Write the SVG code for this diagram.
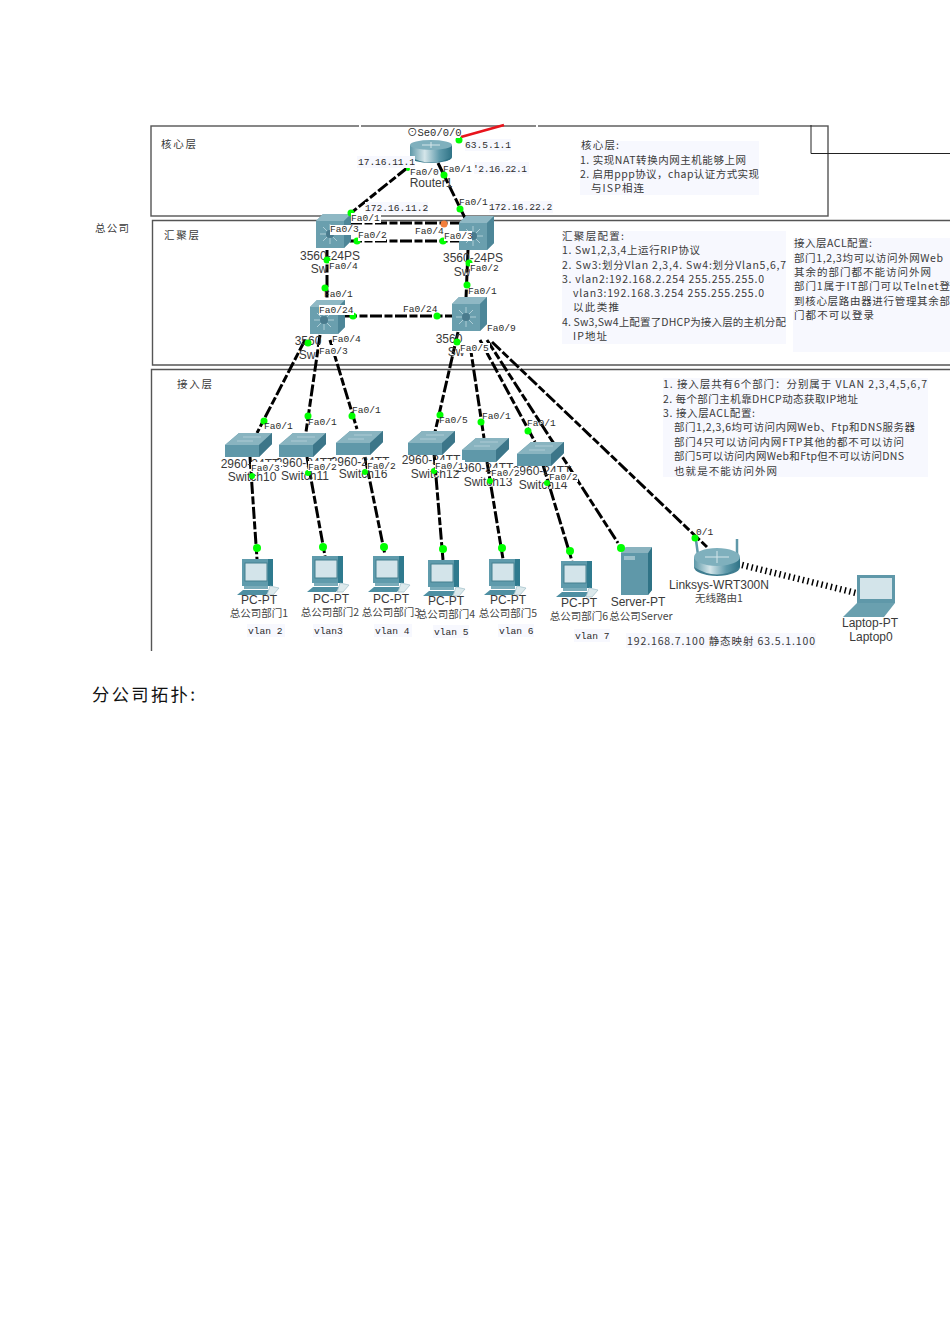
<svg xmlns="http://www.w3.org/2000/svg" width="950" height="1344" viewBox="0 0 950 1344">
<style>
text{font-family:"Liberation Sans","Noto Sans CJK SC",sans-serif;fill:#333}
.p{font-family:"Liberation Mono","Noto Sans CJK SC",monospace;font-size:9.6px;fill:#2b2b2b}
.b{font-family:"Liberation Mono","Noto Sans CJK SC",monospace;font-size:9.6px;fill:#2b2b2b}
.d{font-size:12px;text-anchor:middle;fill:#3a3a3a}
.t{font-size:10.5px;fill:#3a3a3a;font-family:"Noto Sans CJK SC",sans-serif}
.m{font-size:10.5px;text-anchor:middle;fill:#444;font-family:"Noto Sans CJK SC",sans-serif}
.box{fill:none;stroke:#555;stroke-width:1.4}
.bg{fill:#f7f8fe}
.w{fill:#fff}
.l{fill:none;stroke:#000;stroke-width:3;stroke-dasharray:12 2.500 8 2.500}
.g{fill:#0f0}
</style>
<defs>
<linearGradient id="cyl" x1="0" x2="1" y1="0" y2="0"><stop offset="0" stop-color="#5d98a8"/><stop offset=".35" stop-color="#d5e6ea"/><stop offset=".7" stop-color="#5f9aab"/><stop offset="1" stop-color="#2f7386"/></linearGradient>
<g id="cube"><path d="M0 7L7 0H35V27L28 34H0Z" fill="#6a9fae"/><path d="M0 7L7 0H35L28 7Z" fill="#8fb8c4"/><path d="M28 7L35 0V27L28 34Z" fill="#4d8698"/><path d="M14 10V30M4 20H24M7 13L21 27M21 13L7 27" stroke="#b6d2da" stroke-width=".9"/><circle cx="14" cy="20" r="4" fill="#4a7b8d"/></g>
<g id="sw"><path d="M0 12L14 0H47L47 11L34 24H0Z" fill="#5f98a9"/><path d="M0 12L14 0H47L34 12Z" fill="#89b4c0"/><path d="M34 12L47 0V11L34 24Z" fill="#3c7689"/><path d="M12 8H28M18 4H36" stroke="#b8d2da" stroke-width=".8"/></g>
<g id="pc"><path d="M5 0H35V27H5Z" fill="#5f9bac"/><path d="M31 0H36V27H31Z" fill="#2f7a8e"/><rect x="8" y="4" width="22" height="18" fill="#d3e4ea" stroke="#44808f"/><path d="M7 27H31V30H7Z" fill="#7aacba"/><path d="M0 36L6 31H33L29 36Z" fill="#4e8fa2"/><path d="M33 27L42 29 36 36H30Z" fill="#dce9ec" stroke="#9fbfc8" stroke-width=".7"/></g>
</defs>
<rect width="950" height="1344" fill="#fff"/>

<g id="frames">
<rect class="box" x="151" y="126" width="677" height="90"/>
<path class="box" d="M950 220.500H152.500V365H950"/>
<path class="box" d="M950 369.500H151.500V651"/>
<path d="M811 125V153.500H950" fill="none" stroke="#222" stroke-width="1"/>
<rect class="w" x="359" y="124" width="2" height="4"/><rect class="w" x="536" y="124" width="2" height="4"/>
</g>

<g id="text-blocks">
<rect class="bg" x="580" y="141" width="179" height="54"/>
<text class="t" x="581" y="149" textLength="38">核心层:</text>
<text class="t" x="580" y="164" textLength="166">1. 实现NAT转换内网主机能够上网</text>
<text class="t" x="580" y="178" textLength="179">2. 启用ppp协议，chap认证方式实现</text>
<text class="t" x="591" y="192" textLength="53">与ISP相连</text>
<rect class="bg" x="562" y="231" width="224" height="113"/>
<text class="t" x="562" y="240" textLength="62">汇聚层配置:</text>
<text class="t" x="562" y="254" textLength="138">1. Sw1,2,3,4上运行RIP协议</text>
<text class="t" x="562" y="269" textLength="224">2. Sw3:划分Vlan 2,3,4. Sw4:划分Vlan5,6,7</text>
<text class="t" x="562" y="283" textLength="202">3. vlan2:192.168.2.254 255.255.255.0</text>
<text class="t" x="573" y="297" textLength="191">vlan3:192.168.3.254 255.255.255.0</text>
<text class="t" x="573" y="311" textLength="46">以此类推</text>
<text class="t" x="562" y="326" textLength="224">4. Sw3,Sw4上配置了DHCP为接入层的主机分配</text>
<text class="t" x="573" y="340" textLength="34">IP地址</text>
<rect class="bg" x="793" y="238" width="157" height="114"/>
<text class="t" x="794" y="247" textLength="78">接入层ACL配置:</text>
<text class="t" x="794" y="262" textLength="149">部门1,2,3均可以访问外网Web</text>
<text class="t" x="794" y="276" textLength="137">其余的部门都不能访问外网</text>
<text class="t" x="794" y="290" textLength="156">部门1属于IT部门可以Telnet登</text>
<text class="t" x="794" y="305" textLength="156">到核心层路由器进行管理其余部</text>
<text class="t" x="794" y="319" textLength="80">门都不可以登录</text>
<rect class="bg" x="663" y="378" width="265" height="99"/>
<text class="t" x="663" y="388" textLength="264">1. 接入层共有6个部门：分别属于 VLAN 2,3,4,5,6,7</text>
<text class="t" x="663" y="403" textLength="195">2. 每个部门主机靠DHCP动态获取IP地址</text>
<text class="t" x="663" y="417" textLength="92">3. 接入层ACL配置:</text>
<text class="t" x="674" y="431" textLength="241">部门1,2,3,6均可访问内网Web、Ftp和DNS服务器</text>
<text class="t" x="674" y="446" textLength="230">部门4只可以访问内网FTP其他的都不可以访问</text>
<text class="t" x="674" y="460" textLength="230">部门5可以访问内网Web和Ftp但不可以访问DNS</text>
<text class="t" x="674" y="475" textLength="103">也就是不能访问外网</text>
<text class="t" x="161" y="148" textLength="35">核心层</text>
<text class="t" x="164" y="239" textLength="35">汇聚层</text>
<text class="t" x="177" y="388" textLength="35">接入层</text>
<text class="t" x="95" y="232" textLength="34">总公司</text>
<rect class="bg" x="626" y="633" width="190" height="15"/>
<text class="t" x="627" y="645" textLength="188">192.168.7.100 静态映射 63.5.1.100</text>
<text x="92" y="701" font-size="17.300" textLength="103" style="font-family:'Noto Sans CJK SC',sans-serif;fill:#111">分公司拓扑:</text>
</g>

<g id="connectors">
<path d="M461 137L504 125" fill="none" stroke="#e8141c" stroke-width="2.800"/>
<path class="l" d="M407 168L351 213"/>
<path class="l" d="M438 163L465 218"/>
<path class="l" d="M350 223H460"/>
<path class="l" d="M350 241H460"/>
<path class="l" d="M327 250V300"/>
<path class="l" d="M468 250L466 298"/>
<path class="l" d="M345 316H452"/>
<path class="l" d="M305 340L257 433"/>
<path class="l" d="M320 335L306 432"/>
<path class="l" d="M330 340L357 429"/>
<path class="l" d="M458 332L435 432"/>
<path class="l" d="M470 345L484 438"/>
<path class="l" d="M480 340L535 442"/>
<path class="l" d="M487 340L618 543"/>
<path class="l" d="M492 342L707 547"/>
<path class="l" d="M250 457L257 559"/>
<path class="l" d="M307 457L325 556"/>
<path class="l" d="M365 457L385 555"/>
<path class="l" d="M434 453L443 560"/>
<path class="l" d="M487 462L503 559"/>
<path class="l" d="M543 465L572 561"/>
<path d="M742 565L856 593" fill="none" stroke="#000" stroke-width="6.500" stroke-dasharray="1.500 3.300"/>
</g>

<g id="Router1"><ellipse cx="431" cy="157" rx="21" ry="6" fill="#2f7386"/><path d="M410 145H452V157Q431 168 410 157Z" fill="url(#cyl)"/><ellipse cx="431" cy="145" rx="21" ry="5" fill="#7fb0bd"/><path d="M422 145H440M431 142V148" stroke="#d5e6ea"/>
<text class="d" x="431" y="187">Router1</text></g>
<g id="Switch1"><use href="#cube" x="316" y="214"/><text class="d" x="330" y="260">3560-24PS</text><text class="d" x="319" y="273">Sw</text></g>
<g id="Switch2"><use href="#cube" x="459" y="216"/><text class="d" x="473" y="262">3560-24PS</text><text class="d" x="462" y="276">Sw</text></g>
<g id="Switch3"><use href="#cube" x="310" y="300"/><text class="d" x="308" y="345">3560</text><text class="d" x="307" y="359">Sw</text></g>
<g id="Switch4"><use href="#cube" x="452" y="297"/><text class="d" x="449" y="343">3560</text><text class="d" x="456" y="356">Sw</text></g>
<g id="Switch10"><use href="#sw" x="225" y="433"/><text class="d" x="250" y="468">2960-24TT</text><text class="d" x="252" y="481">Switch10</text></g>
<g id="Switch11"><use href="#sw" x="279" y="433"/><text class="d" x="305" y="467">2960-24TT</text><text class="d" x="305" y="480">Switch11</text></g>
<g id="Switch16"><use href="#sw" x="336" y="431"/><text class="d" x="360" y="466">2960-24TT</text><text class="d" x="363" y="478">Switch16</text></g>
<g id="Switch12"><use href="#sw" x="408" y="431"/><text class="d" x="431" y="464">2960-24TT</text><text class="d" x="435" y="478">Switch12</text></g>
<g id="Switch13"><use href="#sw" x="462" y="438"/><text class="d" x="484" y="472">2960-24TT</text><text class="d" x="488" y="486">Switch13</text></g>
<g id="Switch14"><use href="#sw" x="517" y="442"/><text class="d" x="542" y="475">2960-24TT</text><text class="d" x="543" y="489">Switch14</text></g>
<g id="PC1"><use href="#pc" x="237" y="559"/><text class="d" x="259" y="604">PC-PT</text><text class="m" x="259" y="617">总公司部门1</text><rect class="bg" x="247" y="624" width="38" height="13"/><text class="b" x="248" y="634">vlan 2</text></g>
<g id="PC2"><use href="#pc" x="307" y="556"/><text class="d" x="331" y="603">PC-PT</text><text class="m" x="330" y="616">总公司部门2</text><rect class="bg" x="313" y="624" width="30" height="13"/><text class="b" x="314" y="634">vlan3</text></g>
<g id="PC3"><use href="#pc" x="368" y="556"/><text class="d" x="391" y="603">PC-PT</text><text class="m" x="391" y="616">总公司部门3</text><rect class="bg" x="374" y="624" width="38" height="13"/><text class="b" x="375" y="634">vlan 4</text></g>
<g id="PC4"><use href="#pc" x="423" y="560"/><text class="d" x="446" y="605">PC-PT</text><text class="m" x="446" y="618">总公司部门4</text><rect class="bg" x="433" y="625" width="36" height="13"/><text class="b" x="434" y="635">vlan 5</text></g>
<g id="PC5"><use href="#pc" x="484" y="559"/><text class="d" x="508" y="604">PC-PT</text><text class="m" x="508" y="617">总公司部门5</text><rect class="bg" x="498" y="624" width="36" height="13"/><text class="b" x="499" y="634">vlan 6</text></g>
<g id="PC6"><use href="#pc" x="556" y="561"/><text class="d" x="579" y="607">PC-PT</text><text class="m" x="579" y="620">总公司部门6</text><rect class="bg" x="574" y="629" width="36" height="13"/><text class="b" x="575" y="639">vlan 7</text></g>
<g id="Server"><path d="M621 553L626 547H652V590L648 595H621Z" fill="#5f98a9"/><path d="M648 553L652 547V590L648 595Z" fill="#2f7386"/><path d="M621 553L626 547H652L648 553Z" fill="#8ab3bf"/><rect x="624" y="556" width="11" height="4" fill="#9cc0ca"/><text class="d" x="638" y="606">Server-PT</text><text class="m" x="641" y="620">总公司Server</text></g>
<g id="WirelessRouter1"><path d="M698 555L696 540M737 555L737 539" stroke="#5f98a9" stroke-width="2.500"/><ellipse cx="717" cy="567" rx="23" ry="9" fill="#3f7d90"/><path d="M694 557H740V567Q717 582 694 567Z" fill="url(#cyl)"/><ellipse cx="717" cy="557" rx="23" ry="9" fill="#7fb0bd"/><path d="M705 557H729M717 551V563" stroke="#d5e6ea"/><text class="d" x="719" y="589">Linksys-WRT300N</text><text class="m" x="719" y="602">无线路由1</text></g>
<g id="Laptop0"><path d="M857 575H895V603H857Z" fill="#5f98a9"/><rect x="860" y="578" width="32" height="21" fill="#d3e4ea"/><path d="M857 603H895L884 617H843Z" fill="#6aa0af"/><text class="d" x="870" y="627">Laptop-PT</text><text class="d" x="871" y="641">Laptop0</text></g>

<g id="ports">
<circle class="g" cx="459" cy="140" r="3.500"/>
<circle class="g" cx="444" cy="175" r="3.500"/><circle class="g" cx="408" cy="169" r="2"/><circle class="g" cx="351" cy="213" r="3.500"/><circle class="g" cx="460" cy="209" r="3.500"/>
<circle class="g" cx="357" cy="241" r="3.500"/><circle class="g" cx="443" cy="241" r="3.500"/><circle cx="444" cy="224" r="3.500" fill="#f27f3d"/>
<circle class="g" cx="327" cy="260" r="3.500"/><circle class="g" cx="469" cy="263" r="3.500"/><circle class="g" cx="325" cy="288" r="3.500"/><circle class="g" cx="467" cy="285" r="3.500"/>
<circle class="g" cx="353" cy="316" r="3.500"/><circle class="g" cx="437" cy="316" r="3.500"/><circle class="g" cx="308" cy="343" r="3.500"/><circle class="g" cx="457" cy="342" r="3.500"/>
<circle class="g" cx="264" cy="421" r="3.500"/><circle class="g" cx="308" cy="416" r="3.500"/><circle class="g" cx="352" cy="416" r="3.500"/><circle class="g" cx="440" cy="415" r="3.500"/><circle class="g" cx="481" cy="422" r="3.500"/><circle class="g" cx="528" cy="431" r="3.500"/>
<circle class="g" cx="252" cy="476" r="3"/><circle class="g" cx="308" cy="473" r="3"/><circle class="g" cx="365" cy="472" r="3"/><circle class="g" cx="434" cy="471" r="3"/><circle class="g" cx="490" cy="481" r="3"/><circle class="g" cx="547" cy="483" r="3"/>
<circle class="g" cx="257" cy="548" r="4"/><circle class="g" cx="323" cy="547" r="4"/><circle class="g" cx="384" cy="547" r="4"/><circle class="g" cx="443" cy="549" r="4"/><circle class="g" cx="502" cy="548" r="4"/><circle class="g" cx="570" cy="551" r="4"/><circle class="g" cx="621" cy="548" r="4"/><circle class="g" cx="695" cy="538" r="3.500"/>
</g>

<g id="port-labels">
<rect class="w" x="421" y="127" width="39" height="11"/><text class="p" x="407" y="136" style="font-size:10.500px">⊙Se0/0/0</text>
<rect class="bg" x="465" y="139" width="46" height="12"/><text class="b" x="465" y="148">63.5.1.1</text>
<rect class="bg" x="357" y="156" width="58" height="12"/><text class="b" x="358" y="165" textLength="57">17.16.11.1</text>
<rect class="bg" x="474" y="162" width="55" height="12"/><text class="b" x="473" y="172" textLength="54">'2.16.22.1</text>
<rect class="bg" x="365" y="202" width="63" height="12"/><text class="b" x="365" y="211">172.16.11.2</text>
<rect class="bg" x="489" y="201" width="64" height="12"/><text class="b" x="489" y="210">172.16.22.2</text>
<text class="p" x="410" y="175">Fa0/0</text><text class="p" x="443" y="172">Fa0/1</text><text class="p" x="459" y="205">Fa0/1</text>
<rect class="w" x="351" y="213" width="30" height="10"/><text class="p" x="351" y="221">Fa0/1</text>
<rect class="w" x="330" y="225" width="28" height="10"/><text class="p" x="330" y="232">Fa0/3</text>
<rect class="w" x="358" y="231" width="28" height="10"/><text class="p" x="358" y="238">Fa0/2</text>
<text class="p" x="415" y="234">Fa0/4</text>
<rect class="w" x="444" y="231" width="28" height="10"/><text class="p" x="444" y="239">Fa0/3</text>
<rect class="w" x="329" y="261" width="28" height="10"/><text class="p" x="329" y="269">Fa0/4</text>
<rect class="w" x="470" y="263" width="28" height="10"/><text class="p" x="470" y="271">Fa0/2</text>
<text class="p" x="324" y="297">Fa0/1</text><text class="p" x="468" y="294">Fa0/1</text>
<rect class="w" x="319" y="305" width="35" height="10"/><text class="p" x="319" y="313">Fa0/24</text>
<text class="p" x="403" y="312">Fa0/24</text>
<rect class="w" x="332" y="334" width="30" height="10"/><text class="p" x="332" y="342">Fa0/4</text>
<rect class="w" x="319" y="345" width="30" height="11"/><text class="p" x="319" y="354">Fa0/3</text>
<rect class="w" x="488" y="322" width="30" height="10"/><text class="p" x="487" y="331">Fa0/9</text>
<rect class="w" x="460" y="343" width="30" height="10"/><text class="p" x="460" y="351">Fa0/5</text>
<text class="p" x="264" y="429">Fa0/1</text><text class="p" x="308" y="425">Fa0/1</text><text class="p" x="352" y="413">Fa0/1</text><text class="p" x="439" y="423">Fa0/5</text><text class="p" x="482" y="419">Fa0/1</text><text class="p" x="527" y="426">Fa0/1</text>
<rect class="w" x="251" y="462" width="30" height="10"/><text class="p" x="251" y="471">Fa0/3</text>
<rect class="w" x="308" y="461" width="30" height="10"/><text class="p" x="308" y="470">Fa0/2</text>
<rect class="w" x="367" y="460" width="30" height="10"/><text class="p" x="367" y="469">Fa0/2</text>
<rect class="w" x="435" y="460" width="30" height="10"/><text class="p" x="435" y="469">Fa0/1</text>
<rect class="w" x="492" y="468" width="28" height="10"/><text class="p" x="491" y="476">Fa0/2</text>
<rect class="w" x="550" y="472" width="28" height="10"/><text class="p" x="549" y="480">Fa0/2</text>
<text class="p" x="696" y="535">0/1</text>
</g>
</svg>
